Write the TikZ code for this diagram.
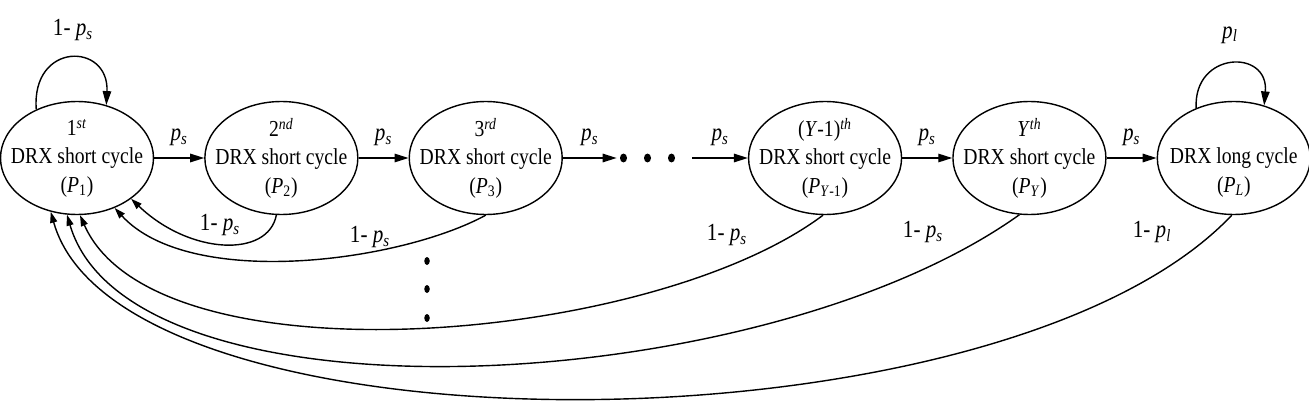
\documentclass[tikz,border=0pt]{standalone}
\usepackage{fontspec}
\setmainfont{Liberation Serif}[FakeStretch=0.86]
\usepackage{tikz}
\usetikzlibrary{arrows.meta, positioning, shapes.geometric}
\newcommand{\probof}[1]{\textit{p}\textsubscript{\textit{#1}}}
\tikzstyle{cyclestate}=[draw,ellipse,line width=0.8pt,minimum width=3.06cm,
  minimum height=2.26cm,inner xsep=-0.3cm,inner ysep=-0.15cm,align=center,
  font=\fontsize{13}{16}\selectfont]
\tikzstyle{arr}=[-{Triangle[length=2.8mm,width=1.7mm]},line width=0.8pt]
\tikzstyle{back}=[-{Triangle[length=2.2mm,width=1.4mm]},line width=0.8pt]
\tikzstyle{lab}=[font=\fontsize{14}{16}\selectfont]

\begin{document}
\begin{tikzpicture}[x=0.02cm,y=-0.02cm]
  \useasboundingbox (0,0) rectangle (1309,402);
  % states
  \node[cyclestate] (s1) at (77,158) {1\textsuperscript{\textit{st}}\\DRX short cycle\\(\textit{P}\textsubscript{1})};
  \node[cyclestate,right=1cm of s1] (s2) {2\textsuperscript{\textit{nd}}\\DRX short cycle\\(\textit{P}\textsubscript{2})};
  \node[cyclestate,right=1cm of s2] (s3) {3\textsuperscript{\textit{rd}}\\DRX short cycle\\(\textit{P}\textsubscript{3})};
  \node[cyclestate,right=3.7cm of s3] (sy1) {(\textit{Y}-1)\textsuperscript{\textit{th}}\\DRX short cycle\\(\textit{P}\textsubscript{\textit{Y}-1})};
  \node[cyclestate,right=1cm of sy1] (sy) {\textit{Y}\textsuperscript{\textit{th}}\\DRX short cycle\\(\textit{P}\textsubscript{\textit{Y}})};
  \node[cyclestate,right=1cm of sy] (sl) {\phantom{1\textsuperscript{\textit{st}}}\\DRX long cycle\\(\textit{P}\textsubscript{\textit{L}})};
  % dots between 3rd and (Y-1)th
  \node[minimum width=1.5cm,minimum height=0.3cm,inner sep=0pt] (hdots) at (654.5,158) {};
  \foreach \dx in {-31,-7,17}
    \fill (hdots.center) ++(\dx,0) ellipse (0.07cm and 0.09cm);
  \foreach \y in {261,289,318}
    \fill (427,\y) ellipse (0.055cm and 0.08cm);
  % forward transitions
  \draw[arr] (s1) -- node[lab,above=3pt] {\probof{s}} (s2);
  \draw[arr] (s2) -- node[lab,above=3pt] {\probof{s}} (s3);
  \draw[arr] (s3) -- node[lab,above=3pt] {\probof{s}} (hdots);
  \draw[arr] (hdots) -- node[lab,above=3pt] {\probof{s}} (sy1);
  \draw[arr] (sy1) -- node[lab,above=3pt] {\probof{s}} (sy);
  \draw[arr] (sy) -- node[lab,above=3pt] {\probof{s}} (sl);
  % self loops
  \draw[arr] (s1.130) .. controls +(-5,-68) and +(3,-63) .. (s1.61);
  \node[lab] (loopshort) at (73,30) {1- \probof{s}};
  \draw[arr] (sl.127) .. controls +(-3,-57) and +(5,-57) .. (sl.60);
  \node[lab] (looplong) at (1230,35) {\probof{l}};
  % returns to the 1st short cycle
  \draw[back] (s2.-95) .. controls (268,258) and (190,255) .. (s1.-37);
  \draw[back] (s3.-90) .. controls (400,262) and (190,290) .. (s1.-53);
  \draw[back] (sy1.-92) .. controls (650,345) and (155,385) .. (s1.-87);
  \draw[back] (sy.-100) .. controls (760,400) and (130,430) .. (s1.-100);
  \draw[back] (sl.-92) .. controls (1000,460) and (120,460) .. (s1.-116);
  \node[lab] (ret2) at (220,225) {1- \probof{s}};
  \node[lab] (ret3) at (370,237) {1- \probof{s}};
  \node[lab] (rety1) at (727,235) {1- \probof{s}};
  \node[lab] (rety) at (923,232) {1- \probof{s}};
  \node[lab] (retl) at (1152,232) {1- \probof{l}};
\end{tikzpicture}
\end{document}
